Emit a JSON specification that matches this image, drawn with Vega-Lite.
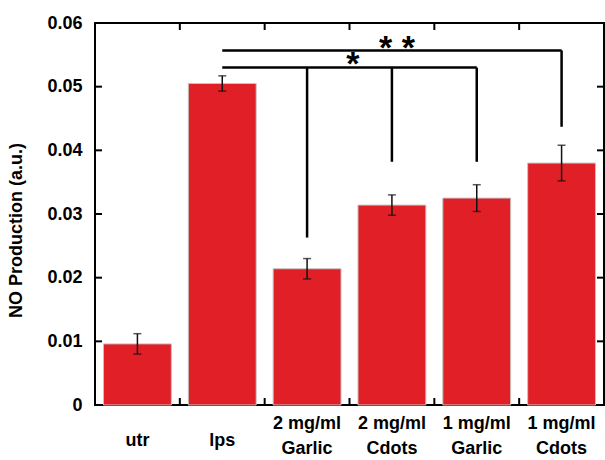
{
  "$schema": "https://vega.github.io/schema/vega-lite/v6.json",
  "width": 509,
  "height": 382,
  "autosize": "none",
  "padding": {"left": 95, "top": 23, "right": 1, "bottom": 55},
  "config": {
    "view": {"stroke": "#000", "strokeWidth": 2},
    "font": "Liberation Sans",
    "axis": {
      "domain": false,
      "grid": false,
      "labelFont": "Liberation Sans",
      "labelFontWeight": "bold",
      "labelFontSize": 18,
      "labelColor": "#000",
      "titleFont": "Liberation Sans",
      "titleFontWeight": "bold",
      "titleFontSize": 18,
      "titleColor": "#000"
    }
  },
  "datasets": {
    "bars": [
      {"cat": "utr", "value": 0.0096, "lo": 0.0080, "hi": 0.0112},
      {"cat": "lps", "value": 0.0505, "lo": 0.0493, "hi": 0.0517},
      {"cat": "2 mg/ml Garlic", "value": 0.0214, "lo": 0.0198, "hi": 0.0230},
      {"cat": "2 mg/ml Cdots", "value": 0.0314, "lo": 0.0298, "hi": 0.0330},
      {"cat": "1 mg/ml Garlic", "value": 0.0325, "lo": 0.0304, "hi": 0.0346},
      {"cat": "1 mg/ml Cdots", "value": 0.0380, "lo": 0.0352, "hi": 0.0408}
    ],
    "brackets": [
      {"x": 1.5, "x2": 5.5, "y": 0.0557, "y2": 0.0557},
      {"x": 5.5, "x2": 5.5, "y": 0.0557, "y2": 0.0437},
      {"x": 1.5, "x2": 4.5, "y": 0.0530, "y2": 0.0530},
      {"x": 2.5, "x2": 2.5, "y": 0.0530, "y2": 0.0263},
      {"x": 3.5, "x2": 3.5, "y": 0.0530, "y2": 0.0382},
      {"x": 4.5, "x2": 4.5, "y": 0.0530, "y2": 0.0382}
    ],
    "stars": [
      {"x": 3.56, "y": 0.0544, "label": "* *"},
      {"x": 3.04, "y": 0.0518, "label": "*"}
    ],
    "yticks": [{"v": 0.01}, {"v": 0.02}, {"v": 0.03}, {"v": 0.04}, {"v": 0.05}],
    "xticks": [{"b": 1}, {"b": 2}, {"b": 3}, {"b": 4}, {"b": 5}]
  },
  "layer": [
    {
      "data": {"name": "bars"},
      "mark": {"type": "bar", "width": {"band": 0.8}, "color": "#E11F27", "stroke": "#c4c4c4", "strokeWidth": 1},
      "encoding": {
        "x": {
          "field": "cat", "type": "nominal",
          "sort": ["utr", "lps", "2 mg/ml Garlic", "2 mg/ml Cdots", "1 mg/ml Garlic", "1 mg/ml Cdots"],
          "scale": {"paddingInner": 0, "paddingOuter": 0},
          "axis": {
            "orient": "bottom",
            "title": null, "labelAngle": 0, "ticks": false,
            "labelPadding": {"condition": {"test": "indexof(datum.label, 'ml') >= 0", "value": 18}, "value": 35},
            "labelBaseline": "middle", "labelLineHeight": 25,
            "labelExpr": "split(replace(datum.label, 'ml ', 'ml|'), '|')"
          }
        },
        "y": {
          "field": "value", "type": "quantitative",
          "scale": {"domain": [0, 0.06], "nice": false},
          "axis": {
            "orient": "left",
            "title": "NO Production (a.u.)",
            "values": [0, 0.01, 0.02, 0.03, 0.04, 0.05, 0.06],
            "ticks": false, "labelPadding": 13,
            "labelExpr": "datum.value == 0 ? '0' : format(datum.value, '.2f')",
            "titleX": -79, "titleY": 207, "titleBaseline": "middle", "titleAlign": "center", "titleAngle": -90
          }
        }
      }
    },
    {
      "data": {"name": "bars"},
      "mark": {"type": "rule", "color": "#111", "strokeWidth": 1.5},
      "encoding": {
        "x": {"field": "cat", "type": "nominal", "sort": ["utr", "lps", "2 mg/ml Garlic", "2 mg/ml Cdots", "1 mg/ml Garlic", "1 mg/ml Cdots"], "scale": {"paddingInner": 0, "paddingOuter": 0}, "axis": null},
        "y": {"field": "lo", "type": "quantitative", "axis": null},
        "y2": {"field": "hi"}
      }
    },
    {
      "data": {"name": "bars"},
      "mark": {"type": "tick", "color": "#111", "size": 8, "thickness": 1.5},
      "encoding": {
        "x": {"field": "cat", "type": "nominal", "sort": ["utr", "lps", "2 mg/ml Garlic", "2 mg/ml Cdots", "1 mg/ml Garlic", "1 mg/ml Cdots"], "scale": {"paddingInner": 0, "paddingOuter": 0}, "axis": null},
        "y": {"field": "lo", "type": "quantitative", "axis": null}
      }
    },
    {
      "data": {"name": "bars"},
      "mark": {"type": "tick", "color": "#111", "size": 8, "thickness": 1.5},
      "encoding": {
        "x": {"field": "cat", "type": "nominal", "sort": ["utr", "lps", "2 mg/ml Garlic", "2 mg/ml Cdots", "1 mg/ml Garlic", "1 mg/ml Cdots"], "scale": {"paddingInner": 0, "paddingOuter": 0}, "axis": null},
        "y": {"field": "hi", "type": "quantitative", "axis": null}
      }
    },
    {
      "data": {"name": "brackets"},
      "mark": {"type": "rule", "color": "#000", "strokeWidth": 2.5},
      "encoding": {
        "x": {"field": "x", "type": "quantitative", "scale": {"domain": [0, 6], "nice": false, "zero": false}, "axis": null},
        "x2": {"field": "x2"},
        "y": {"field": "y", "type": "quantitative", "axis": null},
        "y2": {"field": "y2"}
      }
    },
    {
      "data": {"name": "stars"},
      "mark": {"type": "text", "fontSize": 34, "font": "Liberation Sans", "fontWeight": "bold", "baseline": "alphabetic", "align": "center", "color": "#000"},
      "encoding": {
        "x": {"field": "x", "type": "quantitative", "scale": {"domain": [0, 6], "nice": false, "zero": false}, "axis": null},
        "y": {"field": "y", "type": "quantitative", "axis": null},
        "text": {"field": "label"}
      }
    },
    {
      "data": {"name": "yticks"},
      "mark": {"type": "rule", "color": "#000", "strokeWidth": 2},
      "encoding": {
        "x": {"datum": 0, "type": "quantitative", "scale": {"domain": [0, 6], "nice": false, "zero": false}, "axis": null},
        "x2": {"datum": 0.0825},
        "y": {"field": "v", "type": "quantitative", "axis": null}
      }
    },
    {
      "data": {"name": "yticks"},
      "mark": {"type": "rule", "color": "#000", "strokeWidth": 2},
      "encoding": {
        "x": {"datum": 5.9175, "type": "quantitative", "scale": {"domain": [0, 6], "nice": false, "zero": false}, "axis": null},
        "x2": {"datum": 6},
        "y": {"field": "v", "type": "quantitative", "axis": null}
      }
    },
    {
      "data": {"name": "xticks"},
      "mark": {"type": "rule", "color": "#000", "strokeWidth": 2},
      "encoding": {
        "x": {"field": "b", "type": "quantitative", "scale": {"domain": [0, 6], "nice": false, "zero": false}, "axis": null},
        "y": {"datum": 0, "type": "quantitative", "axis": null},
        "y2": {"datum": 0.0011}
      }
    },
    {
      "data": {"name": "xticks"},
      "mark": {"type": "rule", "color": "#000", "strokeWidth": 2},
      "encoding": {
        "x": {"field": "b", "type": "quantitative", "scale": {"domain": [0, 6], "nice": false, "zero": false}, "axis": null},
        "y": {"datum": 0.0589, "type": "quantitative", "axis": null},
        "y2": {"datum": 0.06}
      }
    }
  ],
  "resolve": {"scale": {"x": "independent"}, "axis": {"x": "independent", "y": "independent"}}
}
